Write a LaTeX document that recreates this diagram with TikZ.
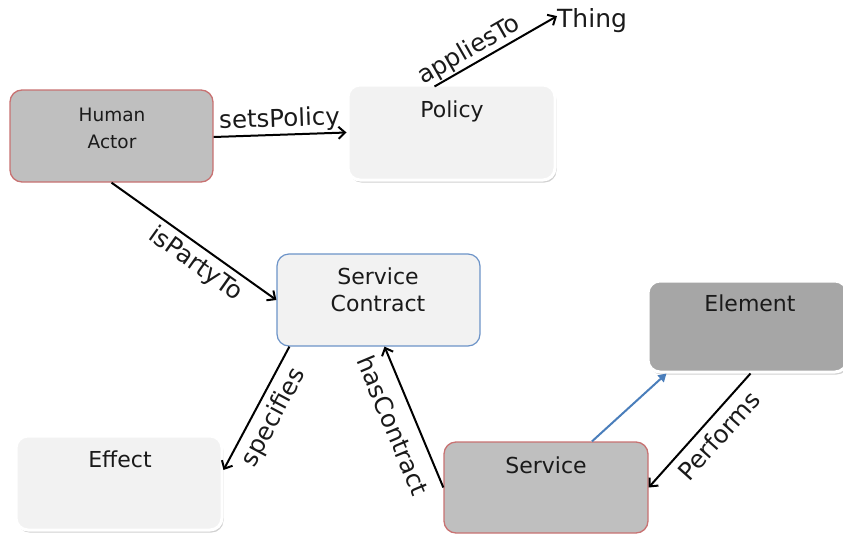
\documentclass[tikz,border=0pt]{standalone}
\usepackage{fontspec}
\setmainfont{DejaVu Sans}
\usetikzlibrary{arrows.meta,shadows}

\definecolor{boxgray}{HTML}{BFBFBF}
\definecolor{darkgray}{HTML}{A6A6A6}
\definecolor{paper}{HTML}{F2F2F2}
\definecolor{redline}{HTML}{C87272}
\definecolor{blueline}{HTML}{6C93C8}
\definecolor{bluearrow}{HTML}{4A7EBB}
\definecolor{ink}{HTML}{1A1A1A}

\tikzset{
  box/.style={rectangle, rounded corners=12pt, inner sep=0pt},
  actorbox/.style={box, fill=boxgray, draw=redline, line width=1.3pt},
  contractbox/.style={box, fill=paper, draw=blueline, line width=1.2pt},
  paperbox/.style={box, fill=#1, draw=white, line width=3pt,
    drop shadow={shadow xshift=1.5pt, shadow yshift=-2.5pt, opacity=0.3, fill=black!60}},
  boxtext/.style={font=\fontsize{22}{27}\selectfont, text=ink, align=center, inner sep=0pt},
  rel/.style={draw=black, line width=2pt, -{Straight Barb[length=6.5pt,width=12pt]}},
  lab/.style={font=\fontsize{24.5}{28}\selectfont, text=ink, sloped, inner sep=2pt},
}

\begin{document}
\begin{tikzpicture}[x=1pt, y=-1pt]
\useasboundingbox (0,0) rectangle (843,536);

% boxes
\node[actorbox, minimum width=203pt, minimum height=92pt] (ha) at (111.5,136) {};
\node[paperbox=paper, minimum width=207pt, minimum height=95pt] (pol) at (451.5,132.5) {};
\node[contractbox, minimum width=203pt, minimum height=92pt] (sc) at (378.5,300) {};
\node[paperbox=paper, minimum width=206pt, minimum height=94pt] (eff) at (119,483) {};
\node[paperbox=darkgray, minimum width=199pt, minimum height=91pt] (el) at (747.5,326.5) {};
\node[actorbox, minimum width=204pt, minimum height=91pt] (sv) at (546,487.5) {};

% box titles
\node[boxtext, font=\fontsize{18.5}{27}\selectfont] (hat) at (112,128) {Human\\Actor};
\node[boxtext, anchor=base] (polt) at (452,117) {Policy};
\node[boxtext] (sct) at (378,290) {Service\\Contract};
\node[boxtext, anchor=base] (efft) at (120,467) {Effect};
\node[boxtext, anchor=base] (elt) at (750,311) {Element};
\node[boxtext, anchor=base] (svt) at (546,473) {Service};

% free-standing term
\node[font=\fontsize{25}{28}\selectfont, text=ink, inner sep=0pt, anchor=base west] (thing) at (557,27) {Thing};

% relations
\draw[rel] ([yshift=-1pt]ha.east) -- node[lab, above] (l1) {setsPolicy} (pol.west);
\draw[rel] ([xshift=-17pt,yshift=-3pt]pol.north) -- node[lab, above=-1pt, pos=0.34] (l2) {appliesTo} ([yshift=4pt]thing.west);
\draw[rel] (ha.south) -- node[lab, below=3pt, pos=0.57] (l3) {isPartyTo} (sc.west);
\draw[rel] ([xshift=13pt]sc.south west) -- node[lab, below=5pt] (l4) {specifies} ([yshift=13pt]eff.east);
\draw[rel] (sv.west) -- node[lab, below=10pt] (l5) {hasContract} ([xshift=6pt]sc.south);
\draw[rel] ([xshift=3pt]el.south) -- node[lab, below=5pt, pos=0.44] (l6) {Performs} (sv.east);
\draw[draw=bluearrow, line width=2pt, -{Triangle[length=8pt,width=9pt]}]
  ([xshift=46pt]sv.north) -- ([xshift=20pt]el.south west);
\end{tikzpicture}
\end{document}
